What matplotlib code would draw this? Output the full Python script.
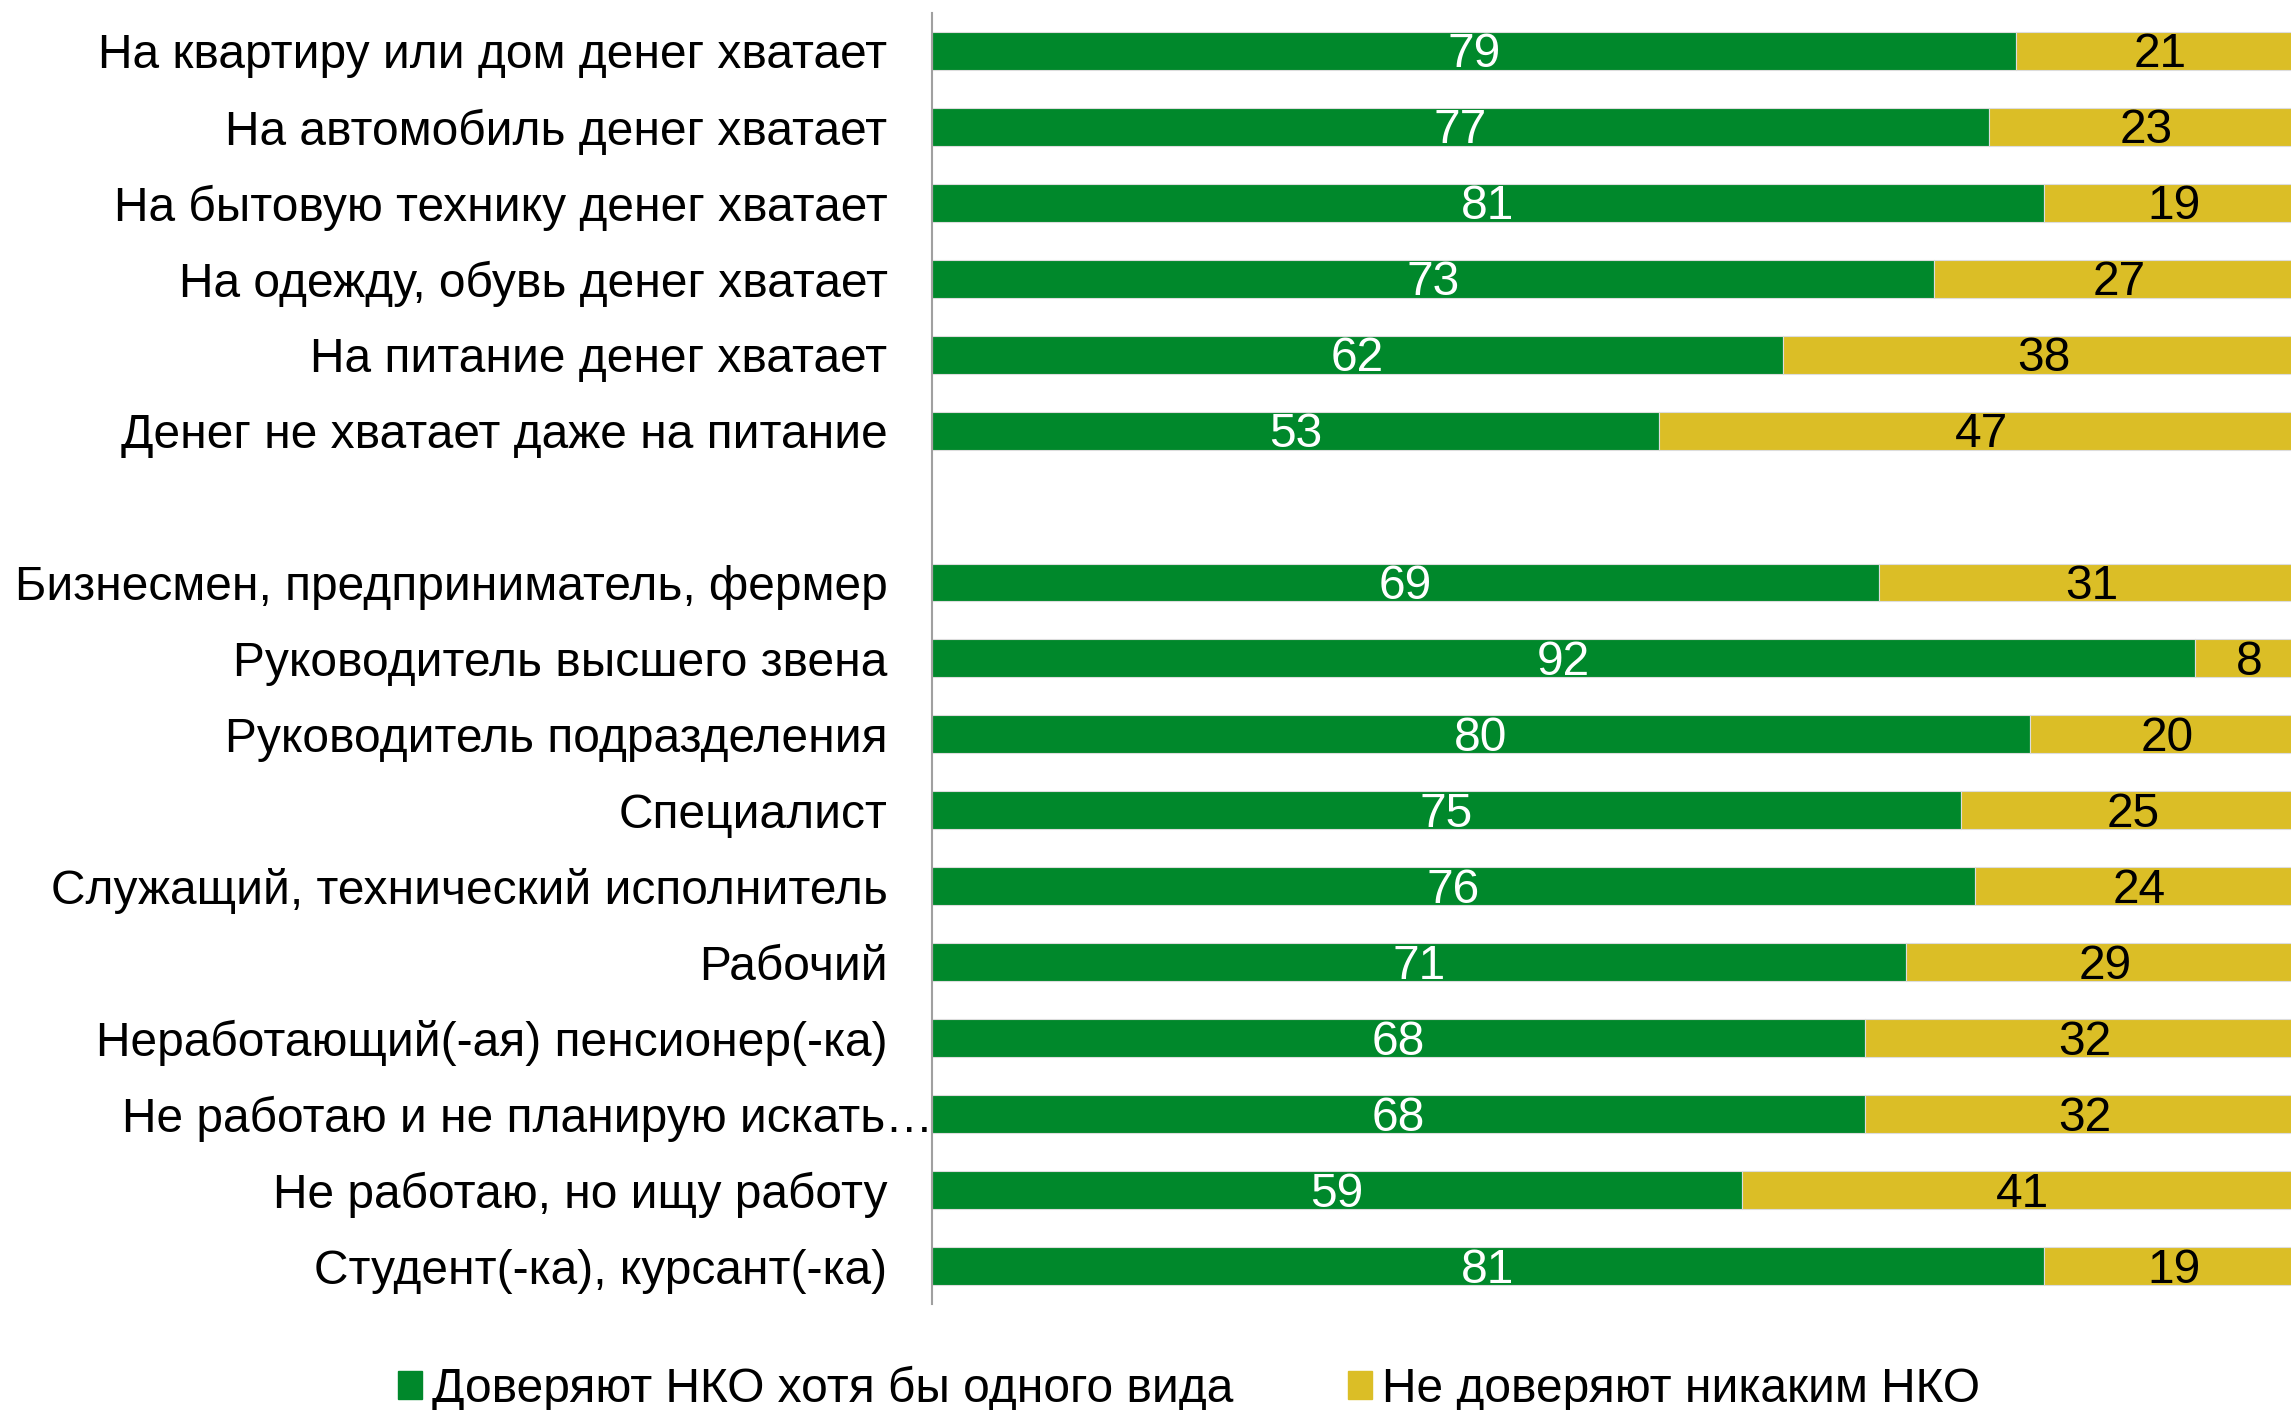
import matplotlib.pyplot as plt
from matplotlib.patches import Patch
import matplotlib.transforms as mtransforms

plt.rcParams['font.family'] = ['Liberation Sans', 'DejaVu Sans']

# Data
categories = [
    "На квартиру или дом денег хватает",
    "На автомобиль денег хватает",
    "На бытовую технику денег хватает",
    "На одежду, обувь денег хватает",
    "На питание денег хватает",
    "Денег не хватает даже на питание",
    "",
    "Бизнесмен, предприниматель, фермер",
    "Руководитель высшего звена",
    "Руководитель подразделения",
    "Специалист",
    "Служащий, технический исполнитель",
    "Рабочий",
    "Неработающий(-ая) пенсионер(-ка)",
    "Не работаю и не планирую искать…",
    "Не работаю, но ищу работу",
    "Студент(-ка), курсант(-ка)",
]
trust = [79, 77, 81, 73, 62, 53, None, 69, 92, 80, 75, 76, 71, 68, 68, 59, 81]
no_trust = [21, 23, 19, 27, 38, 47, None, 31, 8, 20, 25, 24, 29, 32, 32, 41, 19]
series_names = ["Доверяют НКО хотя бы одного вида", "Не доверяют никаким НКО"]

GREEN = "#00882B"
YELLOW = "#DBBE26"
FS = 34.5

fig = plt.figure(figsize=(22.91, 14.10), dpi=100)
ax = fig.add_axes([0.4068, 0.075, 0.599, 0.916])

for i, (t, n) in enumerate(zip(trust, no_trust)):
    if t is None:
        continue
    ax.barh(i, t, height=0.5, color=GREEN, edgecolor="#DDDDDD", linewidth=0.8)
    ax.barh(i, n, left=t, height=0.5, color=YELLOW, edgecolor="#DDDDDD", linewidth=0.8)
    ax.text(t / 2, i + 0.05, str(t), ha="center", va="center", color="white", fontsize=FS)
    ax.text(t + n / 2, i + 0.05, str(n), ha="center", va="center", color="black", fontsize=FS)

ax.set_xlim(0, 100)
ax.set_ylim(16.5, -0.5)
ax.set_yticks(range(len(categories)))
ax.set_yticklabels(categories, fontsize=FS)
ax.tick_params(axis="y", length=0, pad=32)
ax.set_xticks([])

for s in ["top", "right", "bottom"]:
    ax.spines[s].set_visible(False)
ax.spines["left"].set_color("#A0A0A0")
ax.spines["left"].set_linewidth(1.5)

# the truncated label runs slightly over the axis line
lbl = ax.get_yticklabels()[14]
lbl.set_transform(lbl.get_transform() + mtransforms.ScaledTranslation(0.46, 0, fig.dpi_scale_trans))

handles = [Patch(color=GREEN), Patch(color=YELLOW)]
fig.legend(handles, series_names, loc="center", bbox_to_anchor=(0.519, 0.015),
           ncol=2, frameon=False, fontsize=FS, handlelength=0.5, handleheight=0.5,
           handletextpad=0.2, columnspacing=2.4)

fig.savefig("out.png", dpi=100)
